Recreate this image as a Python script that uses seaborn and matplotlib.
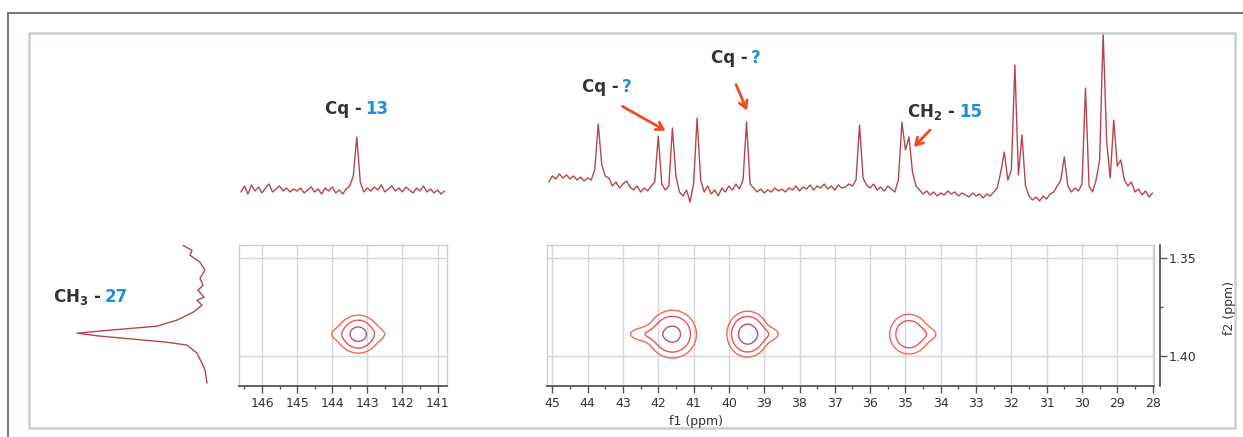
import numpy as np
import matplotlib.pyplot as plt
import seaborn as sns
from matplotlib.lines import Line2D
from matplotlib.patches import Rectangle
from matplotlib.ticker import MultipleLocator

sns.set_style('white')
plt.rcParams['font.family'] = ['DejaVu Sans']

# ---- data ----
# 13C projection, right window (45.1 -> 28.0 ppm, 0.1 ppm steps)
right_ppm_range = (45.1, 28.0)
right_intensity = [
    18, 24,
    21, 26, 22, 25, 21, 24, 20, 23, 19, 22,
    20, 30, 76, 35, 24, 22, 14, 18, 12, 16,
    19, 13, 10, 14, 8, 12, 9, 14, 18, 64,
    16, 10, 14, 72, 24, 8, 4, 10, -2, 16,
    82, 20, 8, 14, 6, 10, 4, 12, 8, 14,
    10, 16, 11, 20, 78, 16, 12, 8, 11, 7,
    10, 8, 12, 9, 11, 8, 12, 10, 14, 9,
    13, 11, 15, 10, 14, 12, 16, 11, 14, 10,
    15, 12, 13, 16, 14, 20, 75, 22, 15, 12,
    16, 10, 13, 9, 14, 11, 8, 20, 78, 50,
    63, 28, 14, 10, 6, 9, 5, 8, 4, 7,
    5, 9, 6, 8, 4, 7, 5, 3, 7, 4,
    6, 2, 6, 4, 8, 12, 28, 48, 20, 30,
    135, 25, 65, 14, 4, 0, 3, -1, 4, 1,
    6, 8, 14, 20, 43, 14, 8, 12, 9, 16,
    112, 14, 8, 20, 40, 167, 58, 22, 80, 34,
    40, 20, 14, 18, 8, 11, 5, 9, 3, 7,
]

# 13C projection, left window (146.6 -> 140.8 ppm)
left_ppm_range = (146.6, 140.8)
left_intensity = [
    8, 14, 6, 15, 9, 13, 7, 12, 16, 8, 11, 14, 9, 12, 8, 11, 9, 12, 7, 10,
    13, 8, 11, 6, 12, 9, 13, 7, 10, 6, 11, 14, 24, 63, 18, 8, 12, 9, 13, 10,
    15, 8, 11, 14, 9, 12, 8, 13, 10, 7, 12, 9, 14, 8, 11, 7, 10, 6, 9,
]

# 1H projection (f2)
proj_f2 = [1.3434, 1.3459, 1.3485, 1.3520, 1.3561, 1.3602, 1.3638, 1.3663,
           1.3699, 1.3714, 1.3740, 1.3776, 1.3816, 1.3847, 1.3872, 1.3883,
           1.3898, 1.3929, 1.3944, 1.3985, 1.4036, 1.4071, 1.4138]
proj_intensity = [32, 23, 25, 15, 10, 15, 12, 17, 11, 18, 13, 22, 38, 58,
                  115, 138, 115, 48, 28, 18, 13, 10, 8]

# cross peaks (main blobs plus their tails): f1, f2, amplitude, widths
left_f1 = [143.26, 143.26, 143.26]
left_f2 = [1.3888, 1.3888, 1.3888]
left_amp = [0.9, 0.18, 0.10]
left_w1 = [0.23, 0.55, 0.75]
left_w2 = [0.0042, 0.0072, 0.0025]

right_f1 = [41.60, 42.40, 39.47, 38.85, 34.90, 34.35]
right_f2 = [1.3888, 1.3888, 1.3888, 1.3888, 1.3888, 1.3888]
right_amp = [1.0, 0.25, 1.21, 0.20, 0.70, 0.15]
right_w1 = [0.34, 0.34, 0.28, 0.255, 0.30, 0.255]
right_w2 = [0.0061, 0.0026, 0.0056, 0.0026, 0.0056, 0.0026]

levels = [0.135, 0.325, 0.8]
level_colors = ['#f3675c', '#e4555c', '#b9526a']

left_xlim = (146.655, 140.73)
right_xlim = (45.16, 27.96)
f2_lim = (1.4153, 1.3432)

spec_color = '#b5464f'
arrow_color = '#f04a23'
blue = '#1d8fd6'
dark = '#333333'

W, H = 1243, 437
fig = plt.figure(figsize=(W / 100, H / 100), dpi=100)


def box(x0, y0, x1, y1):
    return [x0 / W, 1 - y1 / H, (x1 - x0) / W, (y1 - y0) / H]


# outer frames
fig.add_artist(Line2D([8 / W, 1], [1 - 13 / H, 1 - 13 / H], color='#7a7a7a', lw=1.5))
fig.add_artist(Line2D([8 / W, 8 / W], [1 - 13 / H, 0], color='#7a7a7a', lw=1.5))
fig.add_artist(Rectangle((29 / W, 1 - 428 / H), (1235 - 29) / W, (428 - 33) / H,
                         fill=False, ec='#c6d0d0', lw=1.8))

ax_l2d = fig.add_axes(box(239, 245, 447, 386))
ax_r2d = fig.add_axes(box(546.7, 245, 1154, 386))
ax_lt = fig.add_axes(box(239, 30, 447, 210))
ax_rt = fig.add_axes(box(546.7, 30, 1154, 210))
ax_pr = fig.add_axes(box(60, 245, 215, 386))


def cross_peaks(ax, xlim, f1, f2, amp, w1, w2):
    gx = np.linspace(xlim[0], xlim[1], 600)
    gy = np.linspace(f2_lim[1], f2_lim[0], 300)
    X, Y = np.meshgrid(gx, gy)
    Z = np.zeros_like(X)
    for c1, c2, a, s1, s2 in zip(f1, f2, amp, w1, w2):
        Z += a * np.exp(-((X - c1) ** 2) / (2 * s1 ** 2) - ((Y - c2) ** 2) / (2 * s2 ** 2))
    ax.contour(X, Y, Z, levels=levels, colors=level_colors, linewidths=1.0)


def style_2d(ax, xlim, major):
    ax.set_xlim(*xlim)
    ax.set_ylim(*f2_lim)
    ax.set_xticks(major)
    ax.xaxis.set_minor_locator(MultipleLocator(0.5))
    ax.set_yticks([1.35, 1.40])
    ax.tick_params(axis='y', left=False, labelleft=False)
    ax.tick_params(axis='x', which='major', direction='out', length=5, width=1,
                   color='#555555', labelsize=9, labelcolor=dark, pad=3, bottom=True)
    ax.tick_params(axis='x', which='minor', direction='out', length=2.5, width=1,
                   color='#555555', bottom=True)
    ax.grid(True, which='major', color='#d6d6d6', lw=1)
    for s in ['top', 'left', 'right']:
        ax.spines[s].set_color('#cccccc')
        ax.spines[s].set_linewidth(1)
    ax.spines['bottom'].set_color('#555555')
    ax.spines['bottom'].set_linewidth(1.3)


cross_peaks(ax_l2d, left_xlim, left_f1, left_f2, left_amp, left_w1, left_w2)
cross_peaks(ax_r2d, right_xlim, right_f1, right_f2, right_amp, right_w1, right_w2)
style_2d(ax_l2d, left_xlim, list(range(146, 140, -1)))
style_2d(ax_r2d, right_xlim, list(range(45, 27, -1)))

sec = ax_r2d.secondary_yaxis(1 + 6 / 607.3)
sec.set_yticks([1.35, 1.40])
sec.set_yticklabels(['1.35', '1.40'])
sec.yaxis.set_minor_locator(MultipleLocator(0.025))
sec.tick_params(which='major', direction='out', length=5, width=1, color='#555555',
                labelsize=9, labelcolor=dark, pad=1)
sec.tick_params(which='minor', direction='out', length=2.5, width=1, color='#555555')
sec.spines['right'].set_color('#555555')
sec.spines['right'].set_linewidth(1.3)

# 1D traces
right_ppm = np.linspace(right_ppm_range[0], right_ppm_range[1], len(right_intensity))
left_ppm = np.linspace(left_ppm_range[0], left_ppm_range[1], len(left_intensity))

sns.lineplot(x=right_ppm, y=right_intensity, ax=ax_rt, color=spec_color, lw=1,
             estimator=None, sort=False)
sns.lineplot(x=left_ppm, y=left_intensity, ax=ax_lt, color=spec_color, lw=1,
             estimator=None, sort=False)
ax_rt.set_xlim(*right_xlim)
ax_lt.set_xlim(*left_xlim)
for ax in (ax_rt, ax_lt):
    ax.set_ylim(-10, 170)
    ax.axis('off')

sns.lineplot(x=proj_intensity, y=proj_f2, ax=ax_pr, color=spec_color, lw=1,
             estimator=None, sort=False, orient='y')
ax_pr.set_xlim(155, 0)
ax_pr.set_ylim(*f2_lim)
ax_pr.axis('off')

# axis titles
fig.text(696 / W, 1 - 421 / H, 'f1 (ppm)', ha='center', va='center', fontsize=9, color=dark)
fig.text(1229 / W, 1 - 308 / H, 'f2 (ppm)', ha='center', va='center', fontsize=9,
         color=dark, rotation=90)


# assignment labels
def label(x_split, y_base, left, right):
    fig.text(x_split / W, 1 - y_base / H, left, ha='right', va='baseline',
             fontsize=12, weight='bold', color=dark)
    fig.text((x_split + 3) / W, 1 - y_base / H, right, ha='left', va='baseline',
             fontsize=12, weight='bold', color=blue)


label(362, 114, 'Cq -', '13')
label(619, 92, 'Cq -', '?')
label(748, 63, 'Cq -', '?')
label(956, 117, r'CH$_\mathbf{2}$ -', '15')
label(102, 302, r'CH$_\mathbf{3}$ -', '27')

arrows = [((620, 105), (668, 132)), ((735, 82), (748, 113)), ((932, 128), (912, 149))]
for (x1, y1), (x2, y2) in arrows:
    ax_rt.annotate('', xy=(x2, H - y2), xytext=(x1, H - y1),
                   xycoords='figure pixels', textcoords='figure pixels',
                   arrowprops=dict(arrowstyle='->, head_length=0.5, head_width=0.3',
                                   color=arrow_color, lw=2))

fig.savefig('out.png', dpi=100)
